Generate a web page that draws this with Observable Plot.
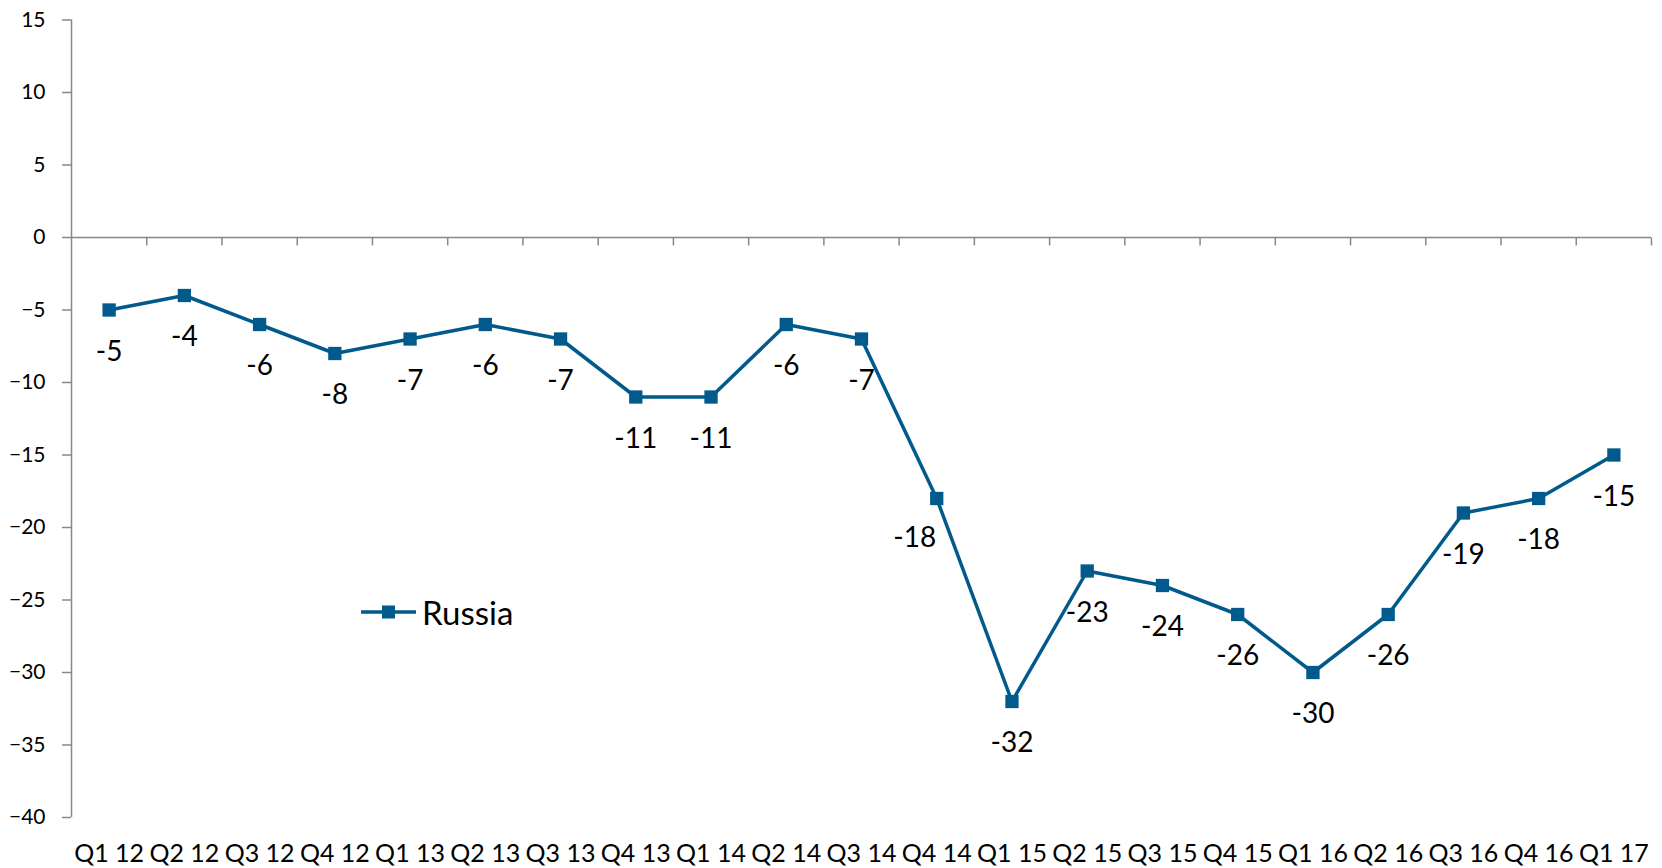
<!DOCTYPE html>
<html>
<head>
<meta charset="utf-8">
<script src="https://cdn.jsdelivr.net/npm/d3@7"></script>
<script src="https://cdn.jsdelivr.net/npm/@observablehq/plot@0.6"></script>
<style>
  html, body { margin: 0; padding: 0; background: #fff; }
  #wrap { position: relative; width: 1662px; height: 868px; font-family: Lato, "Open Sans", sans-serif; }
  #legend { position: absolute; left: 361px; top: 592px; display: flex; align-items: center; font-size: 33px; color: #000; }
  #legend svg { margin-right: 6px; }
</style>
</head>
<body>
<div id="wrap">
  <div id="chart"></div>
  <div id="legend">
    <svg width="55" height="20"><line x1="0" y1="10" x2="55" y2="10" stroke="#005a8c" stroke-width="3.5"></line><rect x="21" y="3.5" width="13" height="13" fill="#005a8c"></rect></svg>
    <span>Russia</span>
  </div>
</div>
<script>
const categories = ["Q1 12","Q2 12","Q3 12","Q4 12","Q1 13","Q2 13","Q3 13","Q4 13","Q1 14","Q2 14","Q3 14","Q4 14","Q1 15","Q2 15","Q3 15","Q4 15","Q1 16","Q2 16","Q3 16","Q4 16","Q1 17"];
const russia = [-5,-4,-6,-8,-7,-6,-7,-11,-11,-6,-7,-18,-32,-23,-24,-26,-30,-26,-19,-18,-15];
const yTicks = [15,10,5,0,-5,-10,-15,-20,-25,-30,-35,-40];
const seriesName = "Russia";

const color = "#005a8c";
const axisGray = "#888888";
const data = categories.map((c, i) => ({i, c, v: russia[i]}));
const idx = categories.map((c, i) => i);
const boundaries = d3.range(categories.length + 1).map(k => k - 0.5);

const tickSymbol = { draw(ctx) { ctx.moveTo(0, 0); ctx.lineTo(0, 8); } };

const chart = Plot.plot({
  width: 1662,
  height: 868,
  marginLeft: 71,
  marginRight: 11,
  marginTop: 19.5,
  marginBottom: 51,
  style: { fontFamily: "Lato, 'Open Sans', sans-serif", background: "#fff", color: "#000" },
  x: { type: "linear", domain: [-0.5, categories.length - 0.5] },
  y: { domain: [d3.min(yTicks), d3.max(yTicks)] },
  marks: [
    Plot.ruleX([-0.5], { y1: d3.min(yTicks), y2: d3.max(yTicks), stroke: axisGray, strokeWidth: 1.5 }),
    Plot.axisY({ ticks: yTicks, tickSize: 9, tickPadding: 17, fontSize: 21, stroke: axisGray, strokeWidth: 1.5, fill: "#000", label: null }),
    Plot.ruleY([0], { stroke: axisGray, strokeWidth: 1.5 }),
    Plot.dot(boundaries.slice(1), { x: d => d, y: 0, symbol: tickSymbol, stroke: axisGray, strokeWidth: 1.5, fill: "none" }),
    Plot.axisX(idx, { tickFormat: i => categories[i], tickSize: 0, tickPadding: 27, fontSize: 25, fill: "#000", label: null }),
    Plot.line(data, { x: "i", y: "v", stroke: color, strokeWidth: 3.5 }),
    Plot.dot(data, { x: "i", y: "v", symbol: "square", r: 7.5, fill: color, stroke: "none" }),
    Plot.text(data, { filter: d => d.c !== "Q4 14", x: "i", y: "v", text: d => String(d.v), dy: 42, fontSize: 28, fill: "#000" }),
    Plot.text(data, { filter: d => d.c === "Q4 14", x: "i", y: "v", text: d => String(d.v), dy: 40, dx: -22, fontSize: 28, fill: "#000" })
  ]
});
document.getElementById("chart").appendChild(chart);
document.querySelector("#legend span").textContent = seriesName;
</script>
</body>
</html>
